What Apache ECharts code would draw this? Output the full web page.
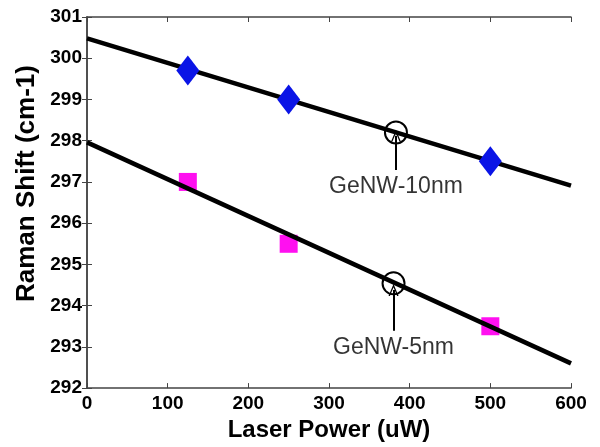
<!DOCTYPE html>
<html><head><meta charset="utf-8">
<script src="https://cdn.jsdelivr.net/npm/echarts@6/dist/echarts.min.js"></script>
<style>html,body{margin:0;padding:0;background:#fff}#c{width:600px;height:447px}</style>
</head><body><div id="c"></div>
<script>
// ---- data ----
const powers = [125, 250, 500];
const shift10 = [299.7, 299.0, 297.5];
const shift5 = [297.0, 295.5, 293.5];
const fit10 = [[0, 300.48], [600, 296.91]];
const fit5 = [[0, 297.96], [600, 292.6]];
const markers = [[383, 298.2], [380, 294.54]];
const labels = ['GeNW-10nm', 'GeNW-5nm'];
const labelPos = [[383, 296.88], [380, 292.98]];
const arrows = [[[383, 297.29], [383, 298.12]], [[380, 293.39], [380, 294.38]]];
const xTicks = {min: 0, max: 600, interval: 100};
const yTicks = {min: 292, max: 301, interval: 1};

const FONT = 'Liberation Sans, Arial, sans-serif';
const chart = echarts.init(document.getElementById('c'), null, {renderer: 'canvas'});
const axisLine = {show: true, lineStyle: {color: '#444', width: 1.5}};
const tick = {show: true, inside: true, length: 5, lineStyle: {color: '#444', width: 1}};
const chevron = 'path://M0,10 L5,0 L10,10 L8.6,10 L5,2.8 L1.4,10 Z';

chart.setOption({
  animation: false,
  backgroundColor: '#fff',
  grid: {left: 87, right: 29, top: 17, bottom: 54},
  xAxis: [{
    type: 'value', min: xTicks.min, max: xTicks.max, interval: xTicks.interval,
    name: 'Laser Power (uW)', nameLocation: 'middle', nameGap: 27,
    nameTextStyle: {fontFamily: FONT, fontWeight: 'bold', fontSize: 24, color: '#000'},
    axisLine, axisTick: tick, splitLine: {show: false},
    axisLabel: {fontFamily: FONT, fontWeight: 'bold', fontSize: 19, color: '#000', margin: 6}
  }, {
    type: 'value', position: 'top', min: xTicks.min, max: xTicks.max, interval: xTicks.interval,
    axisLine, axisTick: tick, axisLabel: {show: false}, splitLine: {show: false}
  }],
  yAxis: [{
    type: 'value', min: yTicks.min, max: yTicks.max, interval: yTicks.interval,
    name: 'Raman Shift (cm-1)', nameLocation: 'middle', nameGap: 46,
    nameTextStyle: {fontFamily: FONT, fontWeight: 'bold', fontSize: 26, color: '#000', padding: [0, 0, 0, 38]},
    axisLine, axisTick: tick, splitLine: {show: false},
    axisLabel: {fontFamily: FONT, fontWeight: 'bold', fontSize: 19, color: '#000', margin: 5}
  }, {
    type: 'value', position: 'right', min: yTicks.min, max: yTicks.max, interval: yTicks.interval,
    axisLine, axisTick: tick, axisLabel: {show: false}, splitLine: {show: false}
  }],
  series: [
    {type: 'line', data: fit10, symbol: 'none', lineStyle: {color: '#000', width: 4.5}, z: 2},
    {type: 'line', data: fit5, symbol: 'none', lineStyle: {color: '#000', width: 4.5}, z: 2},
    {type: 'scatter', data: powers.map((p, i) => [p, shift10[i]]), symbol: 'diamond', symbolSize: [23, 30],
     itemStyle: {color: '#0a14e6', opacity: 1}, z: 3},
    {type: 'scatter', data: powers.map((p, i) => [p, shift5[i]]), symbol: 'rect', symbolSize: 18,
     itemStyle: {color: '#ff10f0', opacity: 1}, z: 1},
    {type: 'scatter', data: markers, symbol: 'circle', symbolSize: 22,
     itemStyle: {color: 'rgba(0,0,0,0)', borderColor: '#000', borderWidth: 2, opacity: 1}, z: 4},
    {type: 'scatter', data: labelPos.map((p, i) => ({value: p, name: labels[i]})), symbolSize: 0,
     label: {show: true, position: 'inside', formatter: '{b}', fontFamily: FONT, fontSize: 23, color: '#000', textBorderWidth: 0}, z: 5,
     markLine: {
       silent: true, symbol: ['none', chevron], symbolSize: [10, 12],
       label: {show: false},
       lineStyle: {color: '#000', width: 2, type: 'solid'},
       data: arrows.map(a => [{coord: a[0]}, {coord: a[1]}])
     }}
  ]
});
</script></body></html>
